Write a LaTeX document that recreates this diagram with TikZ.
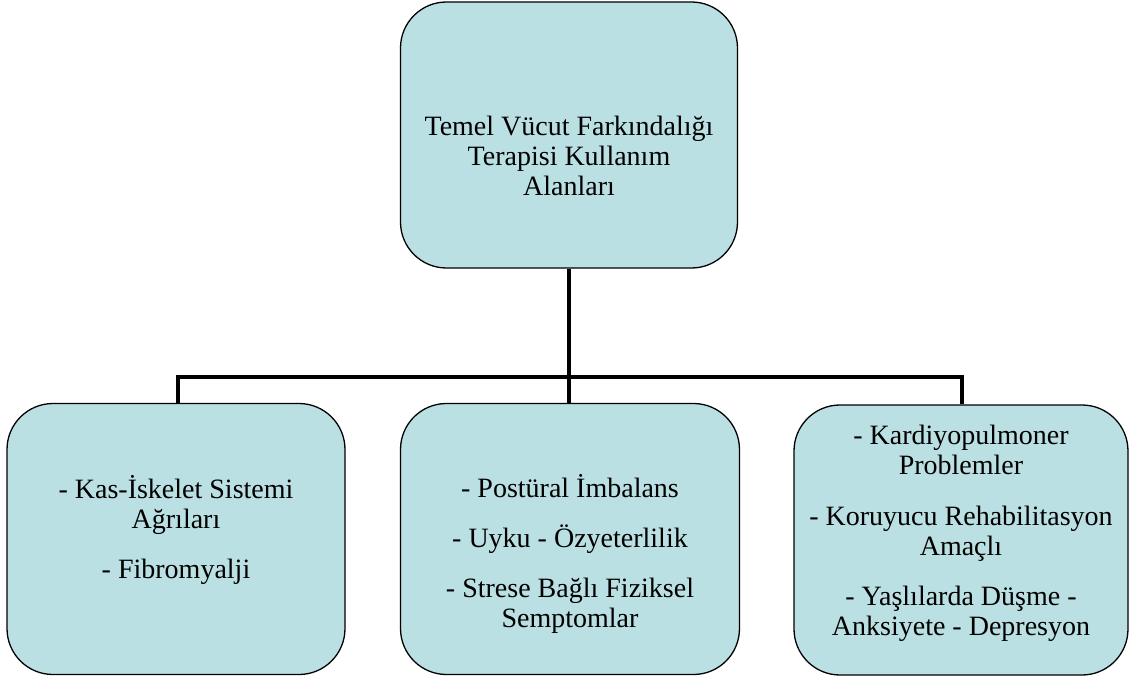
\documentclass[tikz,border=0pt]{standalone}
\usepackage{fontspec}
\setmainfont{Liberation Serif}
\definecolor{kutumavi}{RGB}{187,224,227}
\tikzset{
  kutu/.style={draw=black, line width=1.3pt, fill=kutumavi, rounded corners=46pt, inner sep=0pt},
  yazi/.style={anchor=base, align=center, inner sep=0pt, font=\fontsize{28}{30}\selectfont},
  baglanti/.style={line width=4.5pt}
}
\begin{document}
\begin{tikzpicture}[x=1pt,y=1pt,yscale=-1,xscale=1]
\useasboundingbox (0,0) rectangle (1130,679);

% Root Box
\node [kutu, minimum width=337pt, minimum height=266pt] (kok) at (569,135) {};
% Child Boxes
\node [kutu, minimum width=338pt, minimum height=271pt] (kas) at (176,539) {};
\node [kutu, minimum width=339pt, minimum height=271pt] (postur) at (570,539) {};
\node [kutu, minimum width=334pt, minimum height=270pt] (kardiyo) at (961,540) {};

% Text Node (anchored at the last baseline)
\node [yazi] (kokyazi) at (569,196) {Temel Vücut Farkındalığı\\Terapisi Kullanım\\Alanları};
% Text Node
\node [yazi] (kasyazi) at (176,578) {- Kas-İskelet Sistemi\\Ağrıları\\[20pt]- Fibromyalji};
% Text Node
\node [yazi] (posturyazi) at (570,627) {- Postüral İmbalans\\[20pt]- Uyku - Özyeterlilik\\[20pt]- Strese Bağlı Fiziksel\\Semptomlar};
% Text Node
\node [yazi] (kardiyoyazi) at (961,635) {- Kardiyopulmoner\\Problemler\\[21pt]- Koruyucu Rehabilitasyon\\Amaçlı\\[20pt]- Yaşlılarda Düşme -\\Anksiyete - Depresyon};

% Bus
\coordinate (hat) at (570,377);

% Connectors
\draw [baglanti] (kok.south) -- (kok.south |- postur.north);
\draw [baglanti] ([xshift=2pt]kas.north) |- (hat) -| ([xshift=1pt]kardiyo.north);

\end{tikzpicture}
\end{document}
